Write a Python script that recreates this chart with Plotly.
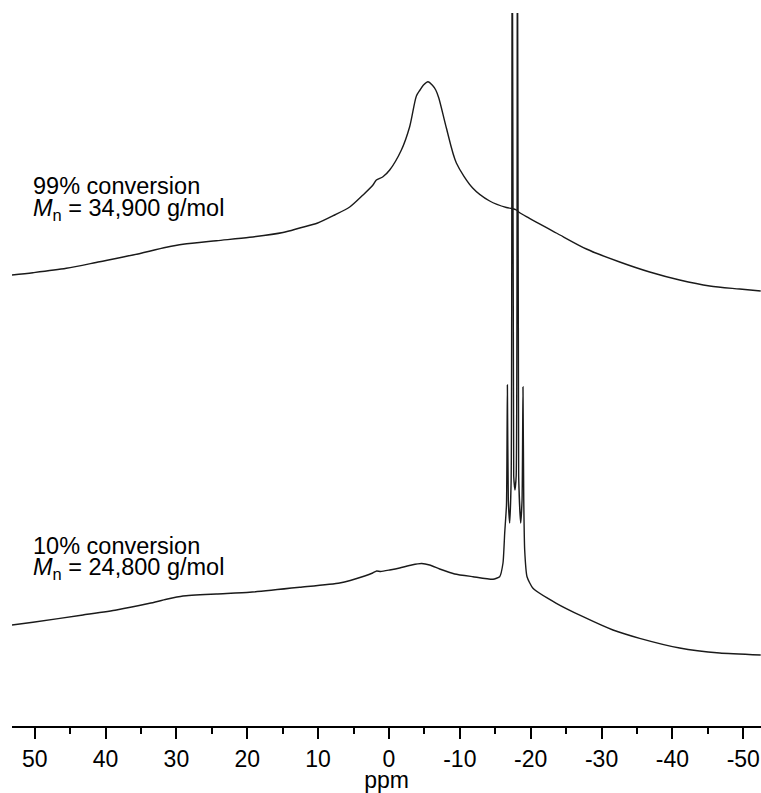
import plotly.graph_objects as go

# ---- data (x in ppm, y in arbitrary intensity units) ----
ppm_99 = [53.2, 50.24, 45.53, 40.83, 36.13, 31.41, 29.07, 24.36, 19.66, 14.96,
          12.60, 10.06, 7.66, 5.54, 3.67, 2.26, 1.78, 0.85, -0.10, -1.75,
          -2.92, -3.87, -4.38, -4.87, -5.50, -6.10, -6.60, -7.03, -8.10, -9.51,
          -11.81, -14.21, -16.57, -17.32, -17.98, -18.30, -19.39, -23.62, -27.86,
          -32.56, -36.79, -41.02, -45.26, -49.49, -52.46]
int_99 = [451, 453.3, 457.7, 464.3, 471, 478.7, 481.7, 485.3, 488.7, 493.5,
          498, 503, 511, 519, 531, 541, 546, 549.3, 556, 576,
          599.3, 630, 636, 641, 644.3, 641, 636, 628, 598, 563,
          538, 525, 518.5, 517.5, 516, 514, 509.3, 493, 477,
          464, 454, 446, 440, 437, 435]

ppm_10 = [53.2, 50.24, 43.18, 38.47, 33.77, 31.41, 29.07, 24.36, 19.66, 12.60,
          6.96, 3.43, 2.30, 1.74, 1.17, -0.10, -1.51, -3.20, -4.61, -5.74,
          -7.15, -9.27, -11.85, -14.68, -15.62, -16.09, -16.33, -16.58, -16.71, -16.84,
          -17.03, -17.24, -17.41, -17.60, -17.78, -17.95, -18.12, -18.30, -18.59, -18.78,
          -18.91, -19.02, -19.15, -19.48, -20.32, -23.62, -27.38, -31.61, -35.38, -41.02,
          -46.67, -52.46]
int_10 = [101, 103.7, 111, 116, 122.7, 126.7, 130, 132, 133.7, 138.7,
          143, 150, 153, 155, 154.5, 156, 158, 161, 162.5, 161,
          157, 152, 149.3, 146.7, 149.3, 163, 193, 221, 341, 226,
          203, 246, 1200, 250, 236, 250, 1200, 250, 203, 226,
          339, 226, 176, 149.3, 137.7, 122.7, 109.3, 96, 87.7, 78,
          73, 71]

tick_vals = [50, 40, 30, 20, 10, 0, -10, -20, -30, -40, -50]
tick_text = ["50", "40", "30", "20", "10", "0", "-10", "-20", "-30", "-40", "-50"]
x_title = "ppm"
label_99 = ["99% conversion", "<i>M</i><sub>n</sub> = 34,900 g/mol"]
label_10 = ["10% conversion", "<i>M</i><sub>n</sub> = 24,800 g/mol"]

FONT = "Arial, Liberation Sans, Helvetica, sans-serif"

fig = go.Figure()
fig.add_trace(go.Scatter(x=ppm_99, y=int_99, mode="lines",
                         line=dict(color="#1a1a1a", width=1.4, shape="spline", smoothing=0.8),
                         hoverinfo="skip", showlegend=False))
fig.add_trace(go.Scatter(x=ppm_10, y=int_10, mode="lines",
                         line=dict(color="#1a1a1a", width=1.4, shape="spline", smoothing=0.5),
                         hoverinfo="skip", showlegend=False))

def ann(text, y):
    fig.add_annotation(text=text, xref="paper", yref="paper", x=0.026, y=y,
                       xanchor="left", yanchor="middle", showarrow=False,
                       font=dict(family=FONT, size=23.5, color="black"))

ann(label_99[0], 0.757)
ann(label_99[1], 0.725)
ann(label_10[0], 0.2525)
ann(label_10[1], 0.2205)

fig.update_layout(
    width=761, height=793,
    margin=dict(l=12, r=0, t=13, b=67),
    paper_bgcolor="white", plot_bgcolor="white",
    font=dict(family=FONT, size=23, color="black"),
    xaxis=dict(range=[53.2, -52.5], showgrid=False, zeroline=False,
               showline=True, linecolor="black", linewidth=2,
               ticks="outside", ticklen=11, tickwidth=2, tickcolor="black",
               tickvals=tick_vals, ticktext=tick_text,
               tickfont=dict(family=FONT, size=23),
               minor=dict(dtick=5, tick0=0, ticks="outside", ticklen=6,
                          tickwidth=2, tickcolor="black", showgrid=False),
               title=dict(text=x_title, standoff=3,
                          font=dict(family=FONT, size=23))),
    yaxis=dict(range=[0, 713], visible=False),
)

fig.write_html("out.html",
               config={"displayModeBar": False},
               post_script="document.body.style.margin='0';document.body.style.overflow='hidden';")
